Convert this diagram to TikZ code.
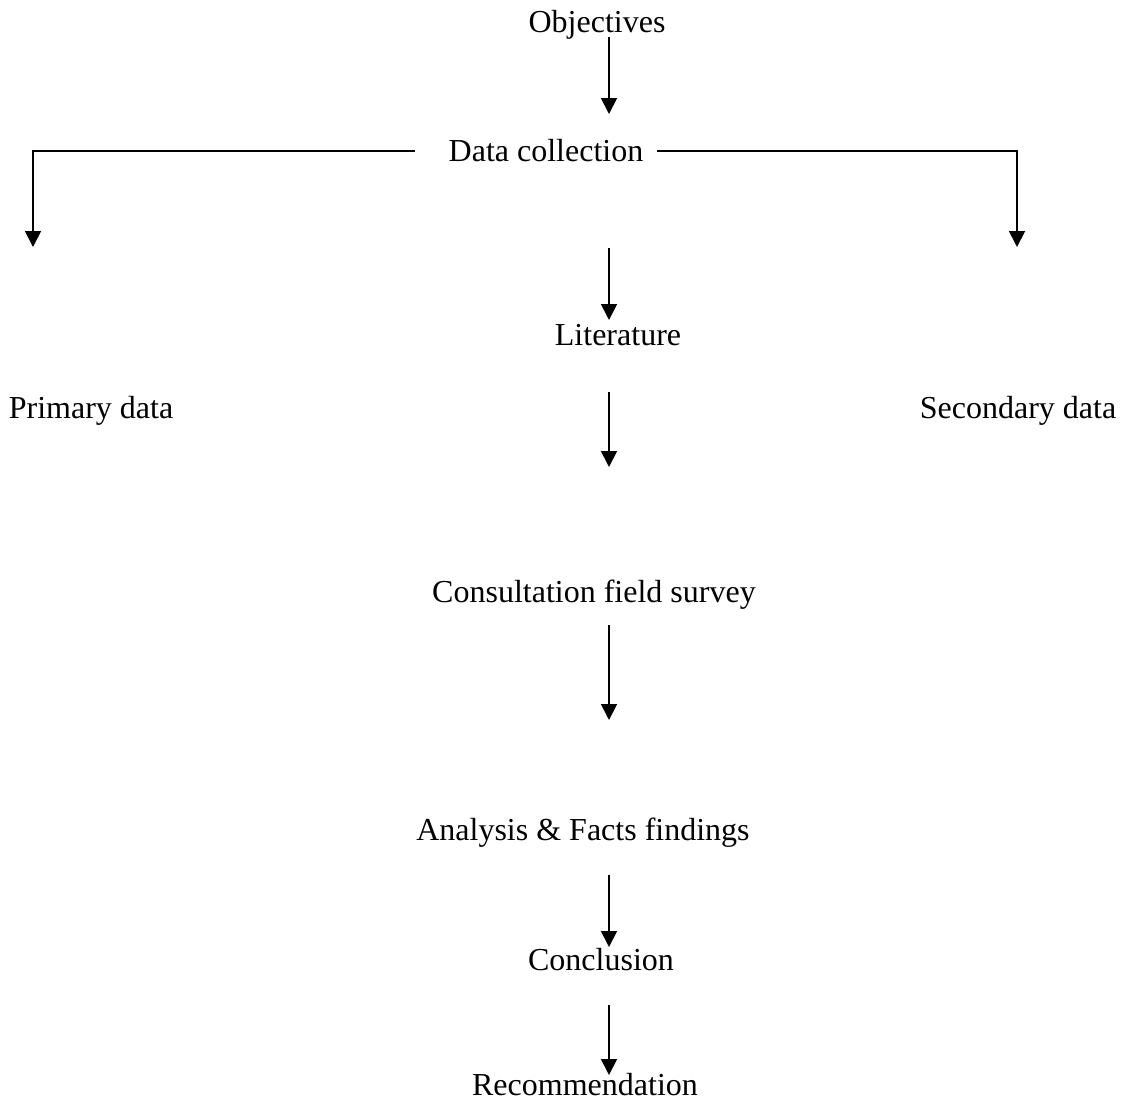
\documentclass[tikz,border=0pt]{standalone}
\usepackage{fontspec}
\setmainfont{Liberation Serif}
\usetikzlibrary{arrows.meta}
\begin{document}
\begin{tikzpicture}[x=1pt,y=-1pt,
  lbl/.style={anchor=base,inner sep=0pt,font=\fontsize{32}{38}\selectfont},
  arr/.style={line width=1.8pt,-{Triangle[width=16pt,length=16pt]}}]
\useasboundingbox (0,0) rectangle (1123,1103);
\node[lbl] (obj) at (597,32) {Objectives};
\node[lbl] (dc) at (546,161) {Data collection};
\node[lbl] (lit) at (618,345) {Literature};
\node[lbl] (prim) at (91,418) {Primary data};
\node[lbl] (sec) at (1018,418) {Secondary data};
\node[lbl] (cons) at (594,602) {Consultation field survey};
\node[lbl] (ana) at (583,840) {Analysis \& Facts findings};
\node[lbl] (conc) at (601,970) {Conclusion};
\node[lbl] (rec) at (585,1095) {Recommendation};
\coordinate (a1s) at (609,37); \coordinate (a1e) at (609,114);
\coordinate (a2s) at (609,248); \coordinate (a2e) at (609,320);
\coordinate (a3s) at (609,392); \coordinate (a3e) at (609,467);
\coordinate (a4s) at (609,625); \coordinate (a4e) at (609,720);
\coordinate (a5s) at (609,875); \coordinate (a5e) at (609,947);
\coordinate (a6s) at (609,1005); \coordinate (a6e) at (609,1075);
\coordinate (ls) at (415,151); \coordinate (lc) at (33,151); \coordinate (le) at (33,247);
\coordinate (rs) at (657,151); \coordinate (rc) at (1017,151); \coordinate (re) at (1017,247);
\draw[arr] (a1s) -- (a1e);
\draw[arr] (a2s) -- (a2e);
\draw[arr] (a3s) -- (a3e);
\draw[arr] (a4s) -- (a4e);
\draw[arr] (a5s) -- (a5e);
\draw[arr] (a6s) -- (a6e);
\draw[arr] (ls) -- (lc) -- (le);
\draw[arr] (rs) -- (rc) -- (re);
\end{tikzpicture}
\end{document}
